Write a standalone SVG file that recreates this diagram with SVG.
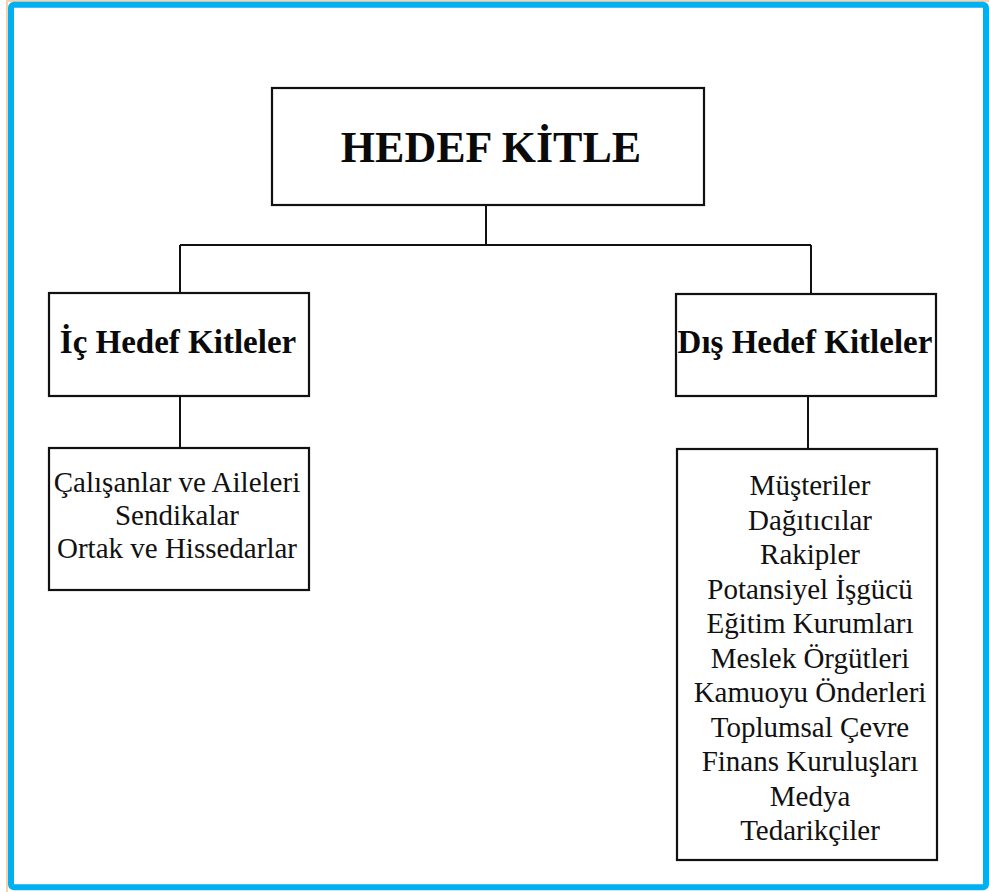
<svg xmlns="http://www.w3.org/2000/svg" width="989" height="892" viewBox="0 0 989 892">
  <style>
    .box { fill: #ffffff; stroke: #111111; stroke-width: 2.2; }
    .wire { fill: none; stroke: #111111; stroke-width: 2; }
    .title { font-family: "Liberation Serif", "Times New Roman", serif; font-weight: bold; fill: #0a0a0a; text-anchor: middle; }
    .item { font-family: "Liberation Serif", "Times New Roman", serif; font-size: 29px; fill: #111111; text-anchor: middle; }
  </style>

  <!-- page background and frame -->
  <rect x="0" y="0" width="989" height="892" fill="#ffffff"/>
  <line x1="7" y1="0" x2="7" y2="892" stroke="#f6d2b0" stroke-width="2"/>
  <line x1="7" y1="1" x2="989" y2="1" stroke="#f6d2b0" stroke-width="2"/>
  <rect x="11" y="4.8" width="975" height="882.4" rx="3" fill="none" stroke="#00b0f0" stroke-width="6"/>

  <!-- connectors -->
  <g id="connectors">
    <line class="wire" x1="486" y1="205" x2="486" y2="245"/>
    <line class="wire" x1="180" y1="245" x2="811" y2="245"/>
    <line class="wire" x1="180" y1="245" x2="180" y2="293"/>
    <line class="wire" x1="811" y1="245" x2="811" y2="294"/>
    <line class="wire" x1="180" y1="396" x2="180" y2="448"/>
    <line class="wire" x1="808" y1="396" x2="808" y2="449"/>
  </g>

  <g id="root">
    <rect class="box" x="272" y="88" width="432" height="117"/>
    <text class="title" x="491" y="162" font-size="44">HEDEF KİTLE</text>
  </g>

  <g id="internal">
    <rect class="box" x="49" y="293" width="260" height="103"/>
    <text class="title" x="178" y="353" font-size="33">İç Hedef Kitleler</text>
  </g>

  <g id="external">
    <rect class="box" x="676" y="294" width="260" height="102"/>
    <text class="title" x="805" y="353" font-size="33">Dış Hedef Kitleler</text>
  </g>

  <g id="internal-list">
    <rect class="box" x="49" y="448" width="260" height="142"/>
    <text class="item" x="177" y="492">Çalışanlar ve Aileleri</text>
    <text class="item" x="177" y="525">Sendikalar</text>
    <text class="item" x="177" y="558">Ortak ve Hissedarlar</text>
  </g>

  <g id="external-list">
    <rect class="box" x="677" y="449" width="260" height="411"/>
    <text class="item" x="810" y="495">Müşteriler</text>
    <text class="item" x="810" y="529.5">Dağıtıcılar</text>
    <text class="item" x="810" y="564">Rakipler</text>
    <text class="item" x="810" y="598.5">Potansiyel İşgücü</text>
    <text class="item" x="810" y="633">Eğitim Kurumları</text>
    <text class="item" x="810" y="667.5">Meslek Örgütleri</text>
    <text class="item" x="810" y="702">Kamuoyu Önderleri</text>
    <text class="item" x="810" y="736.5">Toplumsal Çevre</text>
    <text class="item" x="810" y="771">Finans Kuruluşları</text>
    <text class="item" x="810" y="805.5">Medya</text>
    <text class="item" x="810" y="840">Tedarikçiler</text>
  </g>
</svg>
